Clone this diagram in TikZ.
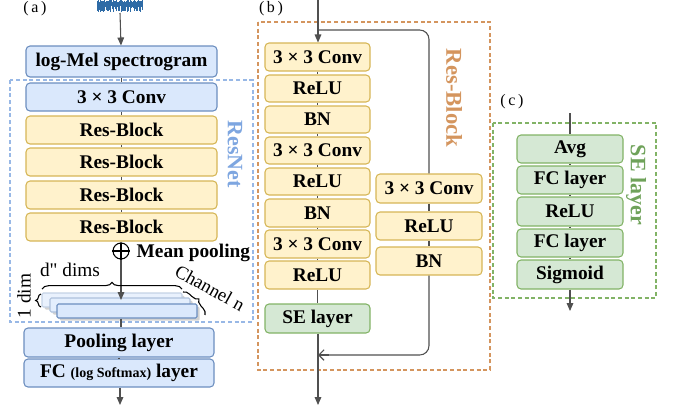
\documentclass[tikz,border=0pt]{standalone}
\usepackage{fontspec}
\setmainfont{Liberation Serif}
\newfontfamily\rawserif{Liberation Serif}[Ligatures=TeXOff]
\usetikzlibrary{arrows.meta,decorations.pathreplacing,shadows}
\definecolor{bfill}{HTML}{DAE8FC}
\definecolor{bdraw}{HTML}{6C8EBF}
\definecolor{yfill}{HTML}{FFF2CC}
\definecolor{ydraw}{HTML}{D6B656}
\definecolor{gfill}{HTML}{D5E8D4}
\definecolor{gdraw}{HTML}{82B366}
\definecolor{lnc}{HTML}{505050}
\definecolor{resnetc}{HTML}{7EA6E0}
\definecolor{resblkc}{HTML}{D4955E}
\definecolor{selc}{HTML}{6FA25A}
\definecolor{wavec}{HTML}{2E6BA6}
\newcommand\mybox[7]{%
  \pgfmathsetmacro\cx{(#3+#5)/2}\pgfmathsetmacro\cy{(#4+#6)/2}%
  \pgfmathsetmacro\ww{(#5-#3)*0.75}\pgfmathsetmacro\hh{(#6-#4)*0.75}%
  \node[#2, minimum width=\ww pt, minimum height=\hh pt] (#1) at (\cx,\cy) {#7};}
\tikzset{
  boxbase/.style={draw, rounded corners=3pt, line width=0.8pt, inner sep=0pt,
    font=\bfseries\fontsize{14.5}{16}\selectfont},
  bluebox/.style={boxbase, fill=bfill, draw=bdraw},
  yelbox/.style={boxbase, fill=yfill, draw=ydraw},
  grnbox/.style={boxbase, fill=gfill, draw=gdraw},
  conn/.style={draw=lnc, line width=0.8pt},
  arr/.style={conn, -{Triangle[length=6pt,width=5pt]}},
  openarr/.style={conn, -{Straight Barb[length=4pt,width=8pt]}},
  dashbox/.style={dash pattern=on 3pt off 2pt, line width=0.8pt},
  feat/.style={draw, rounded corners=1pt, line width=0.8pt, inner sep=0pt,
    drop shadow={shadow xshift=2pt, shadow yshift=-2pt, fill=black!35}},
  panel/.style={font=\fontsize{12}{14}\selectfont},
  vlabel/.style={rotate=-90, font=\bfseries\fontsize{16.5}{18}\selectfont},
  brc/.style={draw=black, line width=0.8pt, decorate,
    decoration={brace, amplitude=5pt}},
}
\begin{document}
\begin{tikzpicture}[x=0.75pt,y=-0.75pt]
\useasboundingbox (0,0) rectangle (673,408);

% ---------------- dashed groups
\draw[dashbox, draw=resnetc!80] (10,80) rectangle (253,322);
\draw[dashbox, draw=resblkc] (258,22) rectangle (490,370);
\draw[dashbox, draw=gdraw] (493,123) rectangle (656,298);

\node[vlabel, text=resnetc] (lresnet) at (235,154) {ResNet};
\node[vlabel, text=resblkc, font=\bfseries\fontsize{17}{18}\selectfont] (lresblk) at (454,98) {Res-Block};
\node[vlabel, text=selc] (lse) at (636,185) {SE layer};

% ---------------- panel labels
\node[panel] (pa) at (35,9) {(\hspace{2pt}a\hspace{2pt})};
\node[panel] (pb) at (271,9) {(\hspace{2pt}b\hspace{2pt})};
\node[panel] (pc) at (512,102) {(\hspace{2pt}c\hspace{2pt})};

% ---------------- waveform
\pgfmathsetseed{12}
\foreach \i in {0,...,76}{
  \pgfmathsetmacro\xx{97+\i*0.6}
  \pgfmathsetmacro\ya{2.5-2.5*rnd}
  \pgfmathsetmacro\yb{6+6*rnd}
  \draw[wavec, line width=0.7pt] (\xx,\ya) -- (\xx,\yb);
}
\coordinate (wav) at (120,13);

% ---------------- panel (a)
\mybox{mel}{bluebox}{26}{46}{217}{77}{log-Mel spectrogram}
\mybox{conv0}{bluebox}{26}{83}{217}{111}{3 × 3 Conv}
\mybox{rb1}{yelbox}{26}{116}{217}{144}{Res-Block}
\mybox{rb2}{yelbox}{26}{148}{217}{176}{Res-Block}
\mybox{rb3}{yelbox}{26}{181}{217}{209}{Res-Block}
\mybox{rb4}{yelbox}{26}{213}{217}{241}{Res-Block}
\mybox{pool}{bluebox}{24}{328}{214}{357}{Pooling layer}
\mybox{fc}{bluebox}{24}{359}{214}{387}{FC {\fontsize{10.5}{12}\selectfont(log Softmax)} layer}

\draw[arr] (wav) -- (mel);
\draw[conn] (mel) -- (conv0);
\draw[conn] (conv0) -- (rb1);
\draw[conn] (rb1) -- (rb2);
\draw[conn] (rb2) -- (rb3);
\draw[conn] (rb3) -- (rb4);

\node[circle, draw=black, line width=0.8pt, minimum size=12pt, inner sep=0pt] (plus) at (121,251) {};
\draw[line width=0.8pt] (plus.north) -- (plus.south) (plus.west) -- (plus.east);
\draw[conn] (rb4.south -| plus) -- (plus.north);
\node[anchor=west, font=\bfseries\fontsize{14.5}{16}\selectfont] (mp) at (132,253) {Mean pooling};

% feature maps
\mybox{f1}{feat, fill=bfill!60, draw=bdraw!40}{42}{293}{182}{307}{}
\mybox{f2}{feat, fill=bfill!75, draw=bdraw!55}{50}{298}{190}{312}{}
\mybox{f3}{feat, fill=bfill, draw=bdraw}{57}{304}{197}{318}{}
\coordinate (ftip) at (121,300);
\draw[arr] (plus.south) -- (ftip);
\draw[conn] (f3.south -| plus) -- (pool.north -| plus);
\draw[conn] (pool) -- (fc);
\coordinate (aout) at (120,405);
\draw[arr] (fc.south -| aout) -- (aout);

\draw[brc] (42,289) -- (182,289);
\node[font=\rawserif\fontsize{14.5}{16}\selectfont] (ddims) at (70,270) {d" dims};
\draw[brc, decoration={brace, amplitude=4pt}] (41,307) -- (41,294);
\node[rotate=90, font=\fontsize{14.5}{16}\selectfont] (onedim) at (24,296) {1 dim};
\draw[brc] (183,292) -- (205,315);
\node[rotate=-29, font=\fontsize{14}{16}\selectfont] (chn) at (210,288) {Channel n};

% ---------------- panel (b)
\mybox{c1}{yelbox}{265}{43}{370}{71}{3 × 3 Conv}
\mybox{r1}{yelbox}{265}{75}{370}{102}{ReLU}
\mybox{b1}{yelbox}{265}{106}{370}{133}{BN}
\mybox{c2}{yelbox}{265}{137}{370}{164}{3 × 3 Conv}
\mybox{r2}{yelbox}{265}{168}{370}{195}{ReLU}
\mybox{b2}{yelbox}{265}{199}{370}{227}{BN}
\mybox{c3}{yelbox}{265}{230}{370}{258}{3 × 3 Conv}
\mybox{r3}{yelbox}{265}{261}{370}{289}{ReLU}
\mybox{se}{grnbox}{265}{304}{370}{333}{SE layer}
\mybox{rc}{yelbox}{376}{174}{482}{203}{3 × 3 Conv}
\mybox{rr}{yelbox}{376}{212}{482}{240}{ReLU}
\mybox{rbn}{yelbox}{376}{247}{482}{275}{BN}

\coordinate (bin) at (318,0);
\coordinate (bsplit) at (318,30);
\coordinate (bjoin) at (318,355);
\coordinate (bout) at (318,405);
\draw[arr] (bin) -- (c1.north -| bin);
\draw[conn, rounded corners=7pt] (bsplit) -- (bsplit -| rc) -- (rc.north);
\draw[conn] (c1) -- (r1);
\draw[conn] (r1) -- (b1);
\draw[conn] (b1) -- (c2);
\draw[conn] (c2) -- (r2);
\draw[conn] (r2) -- (b2);
\draw[conn] (b2) -- (c3);
\draw[conn] (c3) -- (r3);
\draw[conn] (r3) -- (se);
\draw[conn] (rc) -- (rr);
\draw[conn] (rr) -- (rbn);
\draw[arr] (se.south -| bout) -- (bout);
\draw[conn, rounded corners=7pt] (rbn.south) -- (bjoin -| rbn) -- ([xshift=6pt]bjoin);
\draw[openarr] ([xshift=8pt]bjoin) -- (bjoin);

% ---------------- panel (c)
\mybox{avg}{grnbox}{517}{135}{623}{163}{Avg}
\mybox{fc1}{grnbox}{517}{166}{623}{194}{FC layer}
\mybox{relu}{grnbox}{517}{197}{623}{226}{ReLU}
\mybox{fc2}{grnbox}{517}{229}{623}{257}{FC layer}
\mybox{sig}{grnbox}{517}{260}{623}{289}{Sigmoid}
\coordinate (cin) at (570,113);
\coordinate (cout) at (570,311);
\draw[conn] (cin) -- (avg.north -| cin);
\draw[conn] (avg) -- (fc1);
\draw[conn] (fc1) -- (relu);
\draw[conn] (relu) -- (fc2);
\draw[conn] (fc2) -- (sig);
\draw[arr] (sig.south -| cout) -- (cout);
\end{tikzpicture}
\end{document}
